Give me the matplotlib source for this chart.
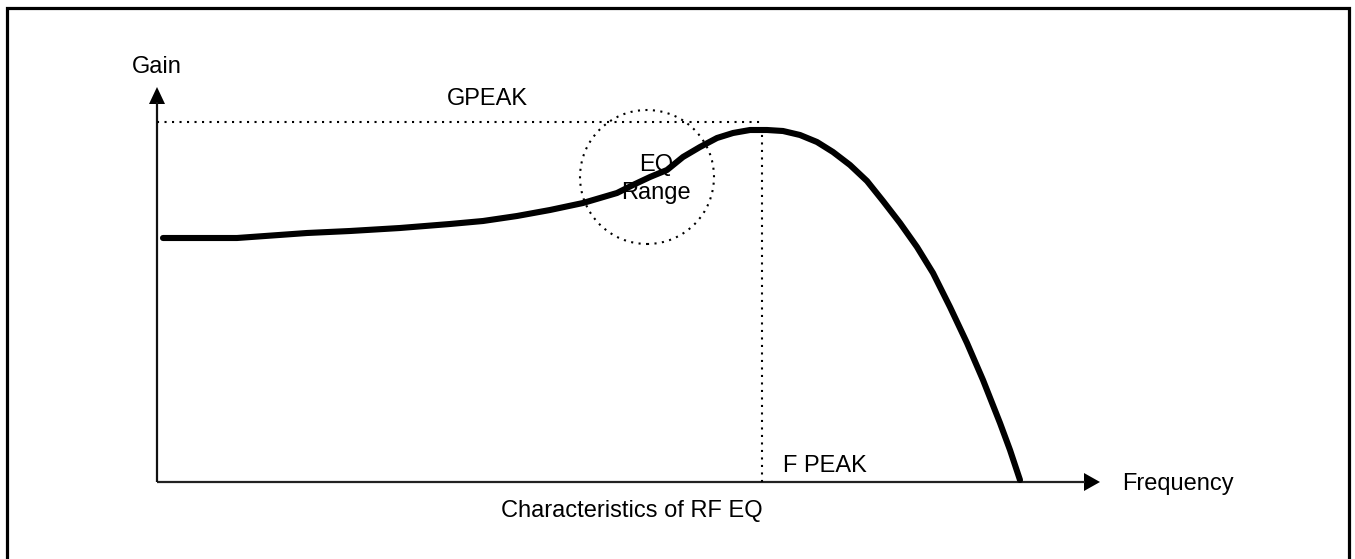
import matplotlib
matplotlib.use("Agg")
import matplotlib.pyplot as plt
from matplotlib.patches import Polygon, Rectangle, Circle

plt.rcParams['font.family'] = ['Liberation Sans', 'DejaVu Sans']

# ---- data (schematic gain-vs-frequency curve, axis units) ----
frequency = [6, 80, 150, 193, 243, 293, 326, 360, 393, 426, 443, 460, 476,
             493, 510, 526, 543, 560, 576, 593, 610, 626, 643, 660, 676,
             693, 710, 726, 743, 760, 776, 793, 810, 826, 843, 853, 863]
gain = [244, 244, 249, 251, 254, 258, 261, 266, 272, 279, 284, 289, 297,
        305, 312, 325, 335, 344, 349, 352, 352, 351, 347, 340, 330,
        317, 301, 281, 259, 235, 209, 175, 139, 102, 59, 32, 2]
f_peak = 605
g_peak = 360
eq_center = (490, 305)
eq_radius = 67
x_axis_end = 943
y_axis_end = 395

labels = {
    "y": "Gain",
    "x": "Frequency",
    "gpeak": "GPEAK",
    "fpeak": "F PEAK",
    "eq": ["EQ", "Range"],
    "title": "Characteristics of RF EQ",
}

# ---- figure ----
W, H = 1355, 559
ox, oy = 157, 482  # pixel location of origin
fig = plt.figure(figsize=(W / 100, H / 100), dpi=100)
ax = fig.add_axes([0, 0, 1, 1])
ax.set_xlim(-ox, W - ox)
ax.set_ylim(oy - H, oy)
ax.axis('off')

fs = 17
# outer frame
ax.add_patch(Rectangle((6.5 - ox, oy - 570), 1342, 570 - 8.3, fill=False,
                       lw=2.3, ec='black', clip_on=False))

# axes with arrows
ax.plot([0, x_axis_end - 15], [0, 0], color='#222222', lw=1.6, solid_capstyle='butt')
ax.plot([0, 0], [0, y_axis_end - 15], color='#111111', lw=1.6, solid_capstyle='butt')
ax.add_patch(Polygon([[x_axis_end, 0], [x_axis_end - 16, 9], [x_axis_end - 16, -9]],
                     closed=True, color='black', lw=0))
ax.add_patch(Polygon([[0, y_axis_end], [-8, y_axis_end - 17], [8, y_axis_end - 17]],
                     closed=True, color='black', lw=0))

dot = (0, (1, 2.6))
ax.plot([0, f_peak], [g_peak, g_peak], color='black', lw=1.5, linestyle=dot)
ax.plot([f_peak, f_peak], [0, g_peak], color='black', lw=1.5, linestyle=dot)
ax.add_patch(Circle(eq_center, eq_radius, fill=False, ec='black', lw=1.5,
                    linestyle=dot))

# curve
ax.plot(frequency, gain, color='black', lw=4.4, solid_capstyle='round',
        solid_joinstyle='round')

# labels
ax.text(0, oy - 73, labels["y"], fontsize=fs, ha='center', va='baseline')
ax.text(1122 - ox, oy - 490, labels["x"], fontsize=fs, ha='left', va='baseline')
ax.text(447 - ox, oy - 105, labels["gpeak"], fontsize=fs, ha='left', va='baseline')
ax.text(783 - ox, oy - 472, labels["fpeak"], fontsize=fs, ha='left', va='baseline')
ax.text(656 - ox, oy - 171, labels["eq"][0], fontsize=fs, ha='center', va='baseline')
ax.text(656 - ox, oy - 199, labels["eq"][1], fontsize=fs, ha='center', va='baseline')
ax.text(763 - ox, oy - 517, labels["title"], fontsize=fs, ha='right', va='baseline')

fig.savefig("out.png", dpi=100)
